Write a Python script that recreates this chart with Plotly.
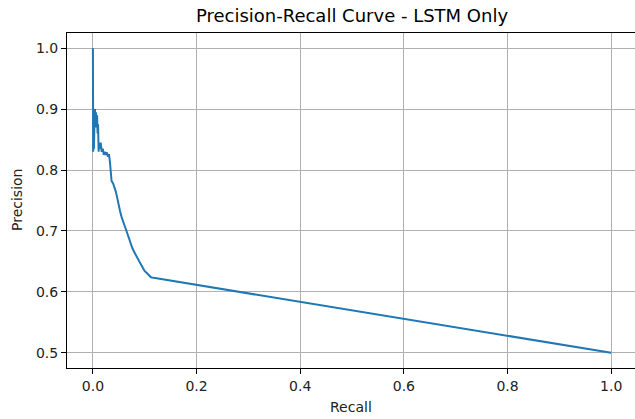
import plotly.graph_objects as go

# Precision-recall pairs for the LSTM-only model, ordered by recall
recall = [
    0.0, 0.0, 0.0005, 0.0005, 0.001, 0.001, 0.0015, 0.002, 0.003, 0.004,
    0.005, 0.006, 0.007, 0.008, 0.009, 0.010, 0.011, 0.012, 0.014, 0.015,
    0.017, 0.019, 0.021, 0.023, 0.025, 0.027, 0.029, 0.031, 0.033, 0.034,
    0.036, 0.039, 0.042, 0.044, 0.046, 0.048, 0.050, 0.052, 0.055, 0.058,
    0.061, 0.064, 0.067, 0.070, 0.073, 0.076, 0.080, 0.084, 0.088, 0.092,
    0.096, 0.100, 0.104, 0.108, 0.112, 0.117, 1.0,
]
precision = [
    1.0, 0.95, 0.94, 0.83, 0.87, 0.84, 0.90, 0.835, 0.88, 0.90,
    0.87, 0.895, 0.875, 0.89, 0.86, 0.875, 0.83, 0.845, 0.835, 0.845,
    0.83, 0.835, 0.825, 0.83, 0.825, 0.829, 0.822, 0.826, 0.812, 0.795,
    0.782, 0.778, 0.772, 0.765, 0.758, 0.748, 0.742, 0.734, 0.724, 0.715,
    0.709, 0.702, 0.694, 0.687, 0.679, 0.672, 0.665, 0.658, 0.651, 0.646,
    0.640, 0.634, 0.631, 0.627, 0.624, 0.623, 0.5,
]

x_ticks = [0.0, 0.2, 0.4, 0.6, 0.8, 1.0]
y_ticks = [0.5, 0.6, 0.7, 0.8, 0.9, 1.0]

W, H = 635, 419
L, R, T, B = 67, 0, 33, 51
FONT = "DejaVu Sans"

fig = go.Figure()
fig.add_trace(go.Scatter(
    x=recall, y=precision, mode="lines",
    line=dict(color="#1f77b4", width=2),
    showlegend=False,
))

axis_common = dict(
    showgrid=True, gridcolor="#b0b0b0", gridwidth=1,
    zeroline=False, showline=True, linecolor="black", linewidth=1,
    ticks="outside", ticklen=5, tickwidth=1, tickcolor="black",
    tickfont=dict(family=FONT, size=14, color="#222222"),
)

fig.update_layout(
    width=W, height=H,
    margin=dict(l=L, r=R, t=T, b=B),
    paper_bgcolor="white", plot_bgcolor="white",
    font=dict(family=FONT, color="black"),
    title=dict(
        text="Precision-Recall Curve - LSTM Only",
        font=dict(family=FONT, size=18, color="black"),
        x=352 / W, xanchor="center",
        y=1 - 16 / H, yref="container", yanchor="middle",
    ),
    xaxis=dict(
        range=[-0.05, 1.046], tickvals=x_ticks,
        ticktext=[f"{v:.1f}" for v in x_ticks],
        mirror=True, **axis_common,
    ),
    yaxis=dict(
        range=[0.475, 1.025], tickvals=y_ticks,
        ticktext=[f"{v:.1f}" for v in y_ticks],
        **axis_common,
    ),
    annotations=[
        dict(text="Recall", xref="paper", yref="paper",
             x=(351 - L) / (W - L - R), y=-(407 - (H - B)) / (H - T - B),
             xanchor="center", yanchor="middle", showarrow=False,
             font=dict(family=FONT, size=14, color="#222222")),
        dict(text="Precision", xref="paper", yref="paper",
             x=-(L - 17) / (W - L - R), y=((H - B) - 200) / (H - T - B),
             xanchor="center", yanchor="middle", showarrow=False, textangle=-90,
             font=dict(family=FONT, size=14, color="#222222")),
    ],
)

fig.write_html("out.html")
